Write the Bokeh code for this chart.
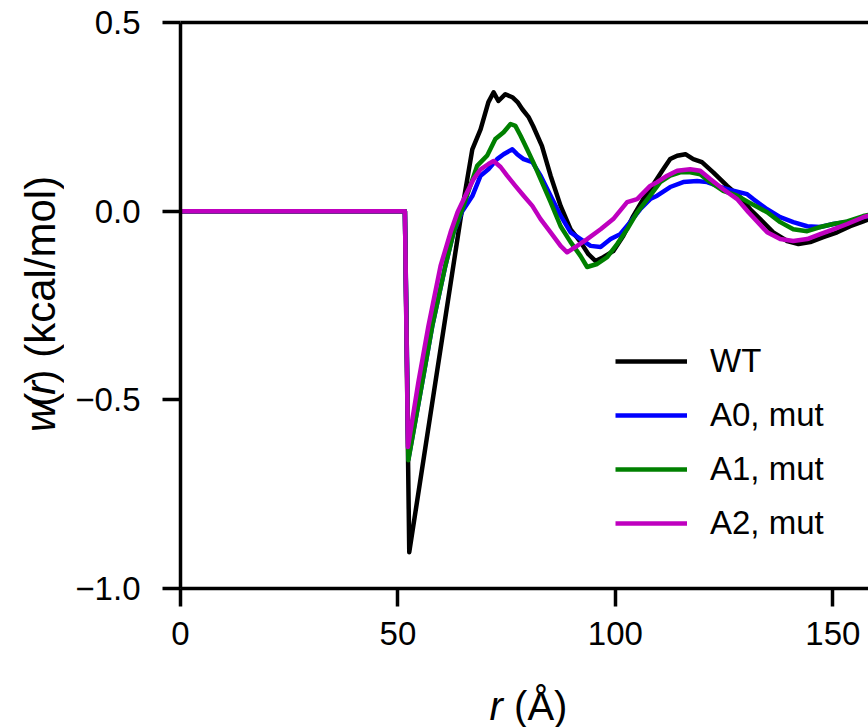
import numpy as np
from bokeh.plotting import figure
from bokeh.layouts import row, column
from bokeh.models import Range1d, FixedTicker, LinearAxis, Label, Legend, LegendItem
from bokeh.embed import file_html
from bokeh.resources import INLINE

# ---------------- data ----------------
r_wt = [0, 51.6, 52.6, 64.4, 67.1, 69.0, 70.8, 72.0, 73.1, 74.7, 76.3, 77.5, 78.6, 80.0,
        81.1, 83.1, 85.1, 87.4, 89.7, 92.0, 93.8, 95.4, 97.2, 99.5, 101.8, 104.1, 106.4,
        108.0, 111.0, 112.6, 114.2, 116.1, 117.9, 119.9, 122.5, 125.7, 128.7, 131.0, 133.3,
        136.3, 139.5, 142.1, 144.8, 147.8, 151.0, 154.0, 157.0, 158.2]
w_wt = [0, 0, -0.904, -0.020, 0.164, 0.217, 0.289, 0.315, 0.292, 0.310, 0.302, 0.289, 0.270, 0.250,
        0.225, 0.173, 0.094, 0.014, -0.048, -0.082, -0.114, -0.132, -0.122, -0.106, -0.066, -0.013, 0.032,
        0.058, 0.111, 0.138, 0.147, 0.151, 0.138, 0.130, 0.103, 0.067, 0.037, 0.005, -0.021,
        -0.056, -0.079, -0.087, -0.082, -0.069, -0.056, -0.040, -0.027, -0.022]

r_a0 = [0, 51.6, 52.4, 55.6, 57.9, 60.9, 62.8, 64.8, 67.1, 69.0, 70.8, 72.8, 74.3, 76.3, 77.4,
        78.9, 80.9, 82.8, 85.1, 87.4, 89.7, 92.0, 94.3, 96.6, 98.9, 101.1, 103.4, 105.7, 108.0,
        109.6, 112.6, 115.6, 118.8, 121.1, 124.1, 127.1, 130.3, 131.7, 134.9, 137.9, 140.9,
        144.1, 147.1, 150.1, 154.0, 157.0, 158.2]
w_a0 = [0, 0, -0.657, -0.453, -0.304, -0.145, -0.056, 0.000, 0.040, 0.094, 0.111, 0.138, 0.151, 0.164, 0.151,
        0.138, 0.130, 0.094, 0.041, -0.012, -0.056, -0.074, -0.092, -0.095, -0.074, -0.061, -0.029, 0.005, 0.032,
        0.041, 0.064, 0.077, 0.080, 0.077, 0.064, 0.054, 0.045, 0.032, 0.005, -0.016, -0.029,
        -0.040, -0.042, -0.034, -0.027, -0.016, -0.012]

r_a1 = [0, 51.6, 52.4, 55.6, 57.9, 60.9, 62.8, 64.8, 68.2, 70.5, 72.4, 74.3, 75.9, 77.0, 78.2,
        79.7, 81.1, 82.8, 85.1, 87.4, 89.7, 92.0, 93.5, 95.8, 98.1, 100.4, 102.7, 105.0, 108.0,
        110.3, 112.6, 114.9, 117.2, 119.5, 121.8, 124.8, 128.0, 130.6, 134.9, 137.9, 140.9,
        144.1, 147.1, 150.1, 153.3, 157.0, 158.2]
w_a1 = [0, 0, -0.660, -0.453, -0.304, -0.145, -0.056, 0.005, 0.120, 0.147, 0.191, 0.209, 0.231, 0.226, 0.200,
        0.164, 0.130, 0.085, 0.024, -0.040, -0.082, -0.119, -0.148, -0.140, -0.122, -0.087, -0.048, -0.003, 0.041,
        0.077, 0.094, 0.103, 0.103, 0.098, 0.077, 0.054, 0.041, 0.024, -0.003, -0.029, -0.048,
        -0.053, -0.042, -0.034, -0.027, -0.013, -0.010]

r_a2 = [0, 51.6, 52.3, 54.7, 57.0, 59.8, 62.1, 63.7, 65.9, 67.4, 69.0, 70.8, 72.0, 73.6, 75.1,
        77.0, 78.9, 80.9, 82.8, 85.1, 87.4, 88.9, 91.2, 93.5, 96.6, 99.5, 102.7, 105.0, 108.0,
        109.6, 111.9, 114.2, 117.2, 119.5, 121.8, 124.8, 128.0, 130.6, 134.9, 137.9, 140.9,
        144.1, 147.1, 150.1, 153.3, 157.0, 158.2]
w_a2 = [0, 0, -0.625, -0.453, -0.305, -0.145, -0.056, -0.003, 0.050, 0.085, 0.111, 0.125, 0.133, 0.117, 0.094,
        0.067, 0.041, 0.014, -0.021, -0.056, -0.092, -0.109, -0.092, -0.074, -0.048, -0.021, 0.024, 0.032, 0.067,
        0.077, 0.094, 0.107, 0.111, 0.107, 0.085, 0.058, 0.032, -0.003, -0.056, -0.074, -0.079,
        -0.074, -0.061, -0.048, -0.034, -0.016, -0.012]

series_names = ["WT", "A0, mut", "A1, mut", "A2, mut"]
series_colors = ["#000000", "#0000ff", "#008000", "#bf00bf"]

x_ticks = [0, 50, 100, 150]
y_ticks = [-1.0, -0.5, 0.0, 0.5]
y_tick_labels = ["\u22121.0", "\u22120.5", "0.0", "0.5"]

X_MIN, X_MAX = 0, 158.2
Y_MIN, Y_MAX = -1.0, 0.5

FONT = "Liberation Sans"
PAGE_W, PAGE_H = 868, 727
YLAB_W = 64            # strip holding the y-axis title
MAIN_H = 680           # main plot height; x-axis title strip below

# ---------------- main figure ----------------
W, H = PAGE_W - YLAB_W, MAIN_H
ML, MT = 180 - YLAB_W, 22
MB = H - 588
p = figure(width=W, height=H, x_range=Range1d(X_MIN, X_MAX), y_range=Range1d(Y_MIN, Y_MAX),
           output_backend="svg", toolbar_location=None,
           min_border_left=ML, min_border_right=0, min_border_top=MT, min_border_bottom=MB)
p.grid.visible = False
p.outline_line_color = None

for ax in (p.xaxis[0], p.yaxis[0]):
    ax.axis_line_width = 3.5
    ax.axis_line_color = "black"
    ax.major_tick_line_width = 3.5
    ax.major_tick_line_color = "black"
    ax.major_tick_out = 18
    ax.major_tick_in = 0
    ax.minor_tick_line_color = None
    ax.major_label_text_font = FONT
    ax.major_label_text_font_size = "33px"
    ax.major_label_text_color = "black"

p.xaxis.ticker = FixedTicker(ticks=x_ticks)
p.xaxis.major_label_standoff = 15
p.yaxis.ticker = FixedTicker(ticks=y_ticks)
p.yaxis.major_label_standoff = 22
p.yaxis.major_label_overrides = {t: s for t, s in zip(y_ticks, y_tick_labels)}

top = LinearAxis(ticker=FixedTicker(ticks=[]), axis_line_width=3.5, axis_line_color="black",
                 major_tick_line_color=None, minor_tick_line_color=None,
                 major_label_text_font_size="0px")
p.add_layout(top, "above")

rends = []
for (rr, ww), c in zip([(r_wt, w_wt), (r_a0, w_a0), (r_a1, w_a1), (r_a2, w_a2)], series_colors):
    rends.append(p.line(rr, ww, line_color=c, line_width=4.5, line_join="round"))

legend = Legend(items=[LegendItem(label=n, renderers=[r]) for n, r in zip(series_names, rends)],
                location=(435, 45), orientation="vertical",
                border_line_color=None, background_fill_alpha=0,
                padding=0, margin=0, spacing=14, glyph_width=72, glyph_height=40,
                label_height=40, label_standoff=23,
                label_text_font=FONT, label_text_font_size="33px", label_text_color="black")
p.add_layout(legend, "center")

# ---------------- axis titles (mixed italic) in their own strips ----------------
FS = 42
em = {"w": 0.722, "(": 0.333, "r": 0.333, ") (kcal/mol)": 4.944, " ": 0.278, "(\u00c5)": 1.333}

def strip(w, h):
    f = figure(width=w, height=h, x_range=Range1d(0, w), y_range=Range1d(h, 0),
               output_backend="svg", toolbar_location=None, min_border=0,
               x_axis_location=None, y_axis_location=None)
    f.grid.visible = False
    f.outline_line_color = None
    return f

ylab = strip(YLAB_W, MAIN_H)
ylab_parts = [("w", "italic"), ("(", "normal"), ("r", "italic"), (") (kcal/mol)", "normal")]
total = sum(em[t] for t, _ in ylab_parts) * FS
py = 305 + total / 2 + FS + 12      # rotated text is drawn higher than its anchor
for t, st in ylab_parts:
    ylab.add_layout(Label(x=40, y=py, text=t, angle=np.pi / 2, text_align="left", text_baseline="middle",
                          text_font=FONT, text_font_size=f"{FS}px", text_font_style=st, text_color="black"))
    py -= em[t] * FS

FSX = 40
xlab = strip(PAGE_W, PAGE_H - MAIN_H)
xlab_parts = [("r", "italic"), (" ", None), ("(\u00c5)", "normal")]
total = sum(em[t] for t, _ in xlab_parts) * FSX
px = 528 - total / 2
for t, st in xlab_parts:
    if st is not None:
        xlab.add_layout(Label(x=px, y=705 - MAIN_H, text=t, text_align="left", text_baseline="middle",
                              text_font=FONT, text_font_size=f"{FSX}px", text_font_style=st,
                              text_color="black"))
    px += em[t] * FSX

layout = column(row(ylab, p, spacing=0), xlab, spacing=0)
open("out.html", "w").write(file_html(layout, INLINE))
